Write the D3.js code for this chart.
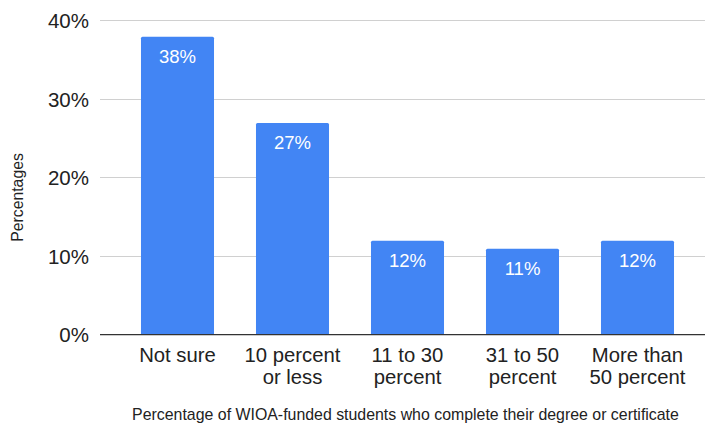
<!DOCTYPE html>
<html>
<head>
<meta charset="utf-8">
<script src="https://cdn.jsdelivr.net/npm/d3@7"></script>
<style>
    body { margin: 0; background: #fff; }
    text { font-family: "Liberation Sans", Arial, sans-serif; }
</style>
</head>
<body>
<div id="chart"></div>
<script>
const categories = [["Not sure"], ["10 percent", "or less"], ["11 to 30", "percent"], ["31 to 50", "percent"], ["More than", "50 percent"]];
const values = [38, 27, 12, 11, 12];
const yTicks = [0, 10, 20, 30, 40];

const width = 706, height = 428;

const svg = d3.select("#chart").append("svg")
    .attr("width", width)
    .attr("height", height);

const x = d3.scaleBand()
    .domain(d3.range(values.length))
    .range([120, 695])
    .paddingInner(0.365)
    .paddingOuter(0.1825);

const y = d3.scaleLinear()
    .domain([0, 40])
    .range([335, 21]);

// grid
svg.append("g")
    .selectAll("line")
    .data(yTicks.filter(d => d > 0))
    .enter().append("line")
    .attr("x1", 100)
    .attr("x2", 705)
    .attr("y1", d => Math.round(y(d)) - 0.5)
    .attr("y2", d => Math.round(y(d)) - 0.5)
    .attr("stroke", "#d0d0d0")
    .attr("stroke-width", 1);

// y tick labels
svg.append("g")
    .selectAll("text")
    .data(yTicks)
    .enter().append("text")
    .attr("x", 89)
    .attr("y", d => y(d))
    .attr("dy", "0.36em")
    .attr("text-anchor", "end")
    .attr("font-size", 20.5)
    .attr("fill", "#222")
    .text(d => d + "%");

// bars
svg.append("g")
    .selectAll("rect")
    .data(values)
    .enter().append("rect")
    .attr("x", (d, i) => x(i))
    .attr("y", d => y(d))
    .attr("width", x.bandwidth())
    .attr("height", d => y(0) - y(d))
    .attr("rx", 1.5)
    .attr("fill", "#4285f4");

// value labels
svg.append("g")
    .selectAll("text")
    .data(values)
    .enter().append("text")
    .attr("x", (d, i) => x(i) + x.bandwidth() / 2)
    .attr("y", d => y(d) + 26)
    .attr("text-anchor", "middle")
    .attr("font-size", 18.5)
    .attr("fill", "#fff")
    .text(d => d + "%");

// baseline
svg.append("line")
    .attr("x1", 100)
    .attr("x2", 705)
    .attr("y1", y(0) - 0.3)
    .attr("y2", y(0) - 0.3)
    .attr("stroke", "#333")
    .attr("stroke-width", 1.2);

// category labels
const cat = svg.append("g")
    .selectAll("text")
    .data(categories)
    .enter().append("text")
    .attr("x", (d, i) => x(i) + x.bandwidth() / 2)
    .attr("y", 362)
    .attr("text-anchor", "middle")
    .attr("font-size", 20.3)
    .attr("fill", "#222");

cat.selectAll("tspan")
    .data(d => d)
    .enter().append("tspan")
    .attr("x", function () { return d3.select(this.parentNode).attr("x"); })
    .attr("dy", (d, i) => i === 0 ? 0 : 21.5)
    .text(d => d);

// axis titles
svg.append("text")
    .attr("x", 405.5)
    .attr("y", 420)
    .attr("text-anchor", "middle")
    .attr("font-size", 15.9)
    .attr("fill", "#222")
    .text("Percentage of WIOA-funded students who complete their degree or certificate");

svg.append("text")
    .attr("transform", "translate(23,197.5) rotate(-90)")
    .attr("text-anchor", "middle")
    .attr("font-size", 15.8)
    .attr("fill", "#222")
    .text("Percentages");
</script>
</body>
</html>
